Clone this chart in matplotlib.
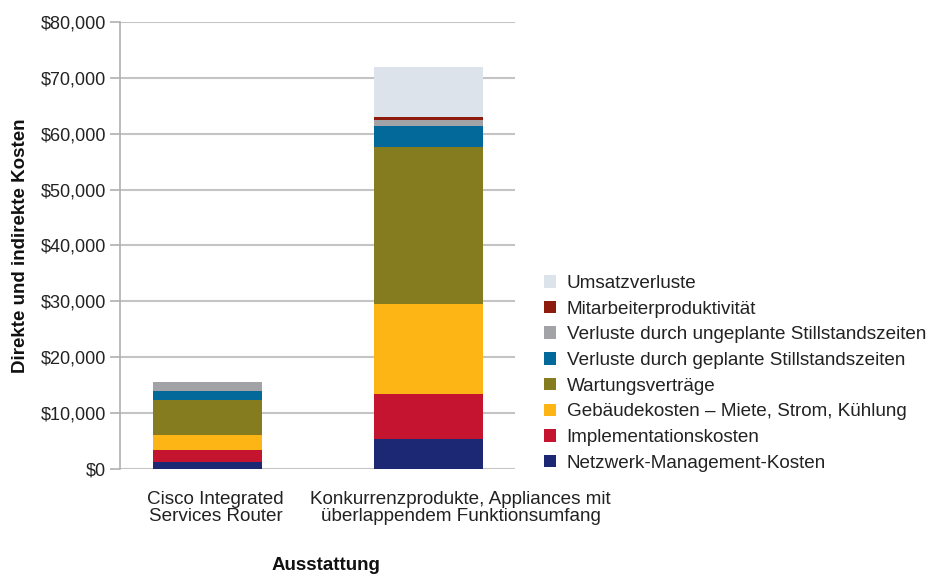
import matplotlib
matplotlib.use("Agg")
import matplotlib.pyplot as plt
import matplotlib.transforms as mtransforms
from matplotlib.patches import Patch
from matplotlib.ticker import FuncFormatter
import numpy as np

plt.rcParams['font.family'] = ['Liberation Sans', 'DejaVu Sans']

categories = ["Cisco Integrated\nServices Router",
              "Konkurrenzprodukte, Appliances mit\nüberlappendem Funktionsumfang"]
series_names = ["Netzwerk-Management-Kosten", "Implementationskosten",
                "Gebäudekosten – Miete, Strom, Kühlung", "Wartungsverträge",
                "Verluste durch geplante Stillstandszeiten",
                "Verluste durch ungeplante Stillstandszeiten",
                "Mitarbeiterproduktivität", "Umsatzverluste"]
netzwerk = [1340, 5380]
implementation = [2100, 7990]
gebaeude = [2560, 16200]
wartung = [6400, 28060]
geplant = [1540, 3840]
ungeplant = [1560, 950]
mitarbeiter = [0, 590]
umsatz = [0, 8960]
colors = ["#1c2873", "#c5142f", "#fdb516", "#857c1f", "#03689a", "#a2a3a6",
          "#8d1c0c", "#dce3ea"]
yticks = [0, 10000, 20000, 30000, 40000, 50000, 60000, 70000, 80000]

series = [netzwerk, implementation, gebaeude, wartung, geplant, ungeplant,
          mitarbeiter, umsatz]

fig = plt.figure(figsize=(9.29, 5.74), dpi=100)
ax = fig.add_axes([120/929, 1-469/574, 395/929, 447/574])

x = np.arange(len(categories))
bottom = np.zeros(len(categories))
for vals, c in zip(series, colors):
    ax.bar(x, vals, bottom=bottom, width=0.49, color=c, zorder=3, linewidth=0)
    bottom += np.array(vals)

ax.set_xlim(-0.395, 1.39)
ax.set_ylim(0, 80000)
ax.set_yticks(yticks)
ax.yaxis.set_major_formatter(FuncFormatter(lambda v, p: f"${int(v):,}"))
ax.grid(axis='y', color='#c4c4c4', linewidth=1.5, zorder=0)
ax.set_axisbelow(True)
for s in ['top', 'right', 'bottom']:
    ax.spines[s].set_visible(False)
ax.spines['left'].set_color('#b0b0b0')
ax.spines['left'].set_linewidth(1.2)
ax.tick_params(axis='y', length=7, width=1.2, color='#b0b0b0', labelsize=13,
               labelcolor='#222222', pad=3)
ax.tick_params(axis='x', length=0, labelsize=13.6, labelcolor='#222222', pad=16)
ax.set_xticks(x)
ax.set_xticklabels(categories, linespacing=0.95)
offsets = [8, 32]
for lab, off in zip(ax.get_xticklabels(), offsets):
    lab.set_transform(lab.get_transform() +
                      mtransforms.ScaledTranslation(off/100, 0, fig.dpi_scale_trans))

ax.set_ylabel("Direkte und indirekte Kosten", fontsize=13.5, fontweight='bold',
              color='#111111')
ax.yaxis.set_label_coords(-0.23, 0.5)
fig.text(326/929, 1-565/574, "Ausstattung", fontsize=13.5, fontweight='bold',
         color='#111111', ha='center', va='center')

handles = [Patch(facecolor=c, label=n) for n, c in zip(series_names, colors)][::-1]
fig.legend(handles=handles, loc='upper left', bbox_to_anchor=(544/929, 1-275/574),
           frameon=False, fontsize=13.6, handlelength=0.65, handleheight=0.65,
           handletextpad=0.55, labelspacing=0.46, borderaxespad=0, borderpad=0,
           labelcolor='#222222')

fig.savefig("out.png", dpi=100)
